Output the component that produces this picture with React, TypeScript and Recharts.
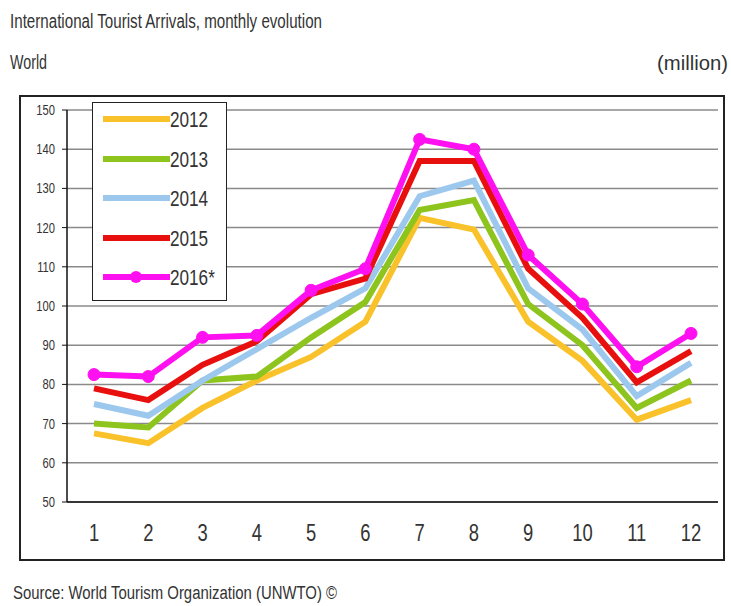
import React from 'react';
import { LineChart, Line, XAxis, YAxis, CartesianGrid, Legend } from 'recharts';

const months = ['1', '2', '3', '4', '5', '6', '7', '8', '9', '10', '11', '12'];
const y2012 = [67.5, 65, 74, 81, 87, 96, 122.5, 119.5, 96, 86, 71, 76];
const y2013 = [70, 69, 81, 82, 92, 101, 124.5, 127, 100.5, 90, 74, 81];
const y2014 = [75, 72, 81, 89, 97, 104.5, 128, 132, 104.5, 94, 77, 85.5];
const y2015 = [79, 76, 85, 91, 103, 107, 137, 137, 109.5, 97, 80.5, 88.5];
const y2016 = [82.5, 82, 92, 92.5, 104, 109.5, 142.5, 140, 113, 100.5, 84.5, 93];
const yTicks = [50, 60, 70, 80, 90, 100, 110, 120, 130, 140, 150];

const data = months.map((m, i) => ({
  month: m,
  y2012: y2012[i],
  y2013: y2013[i],
  y2014: y2014[i],
  y2015: y2015[i],
  y2016: y2016[i],
}));

// narrow look: Arial metrics squeezed horizontally
const FONT = "'Liberation Sans', Arial, sans-serif";
const SQUEEZE = 0.8;

const series = [
  { key: 'y2012', name: '2012', color: '#FAC22A' },
  { key: 'y2013', name: '2013', color: '#8DC41E' },
  { key: 'y2014', name: '2014', color: '#9DC8EE' },
  { key: 'y2015', name: '2015', color: '#E8100E' },
  { key: 'y2016', name: '2016*', color: '#FF10F0' },
];

const XTick = (props: any) => {
  const { x, y, payload } = props;
  return (
    <g transform={`translate(${x},${y})`}>
      <text transform={`scale(${SQUEEZE},1)`} textAnchor="middle" dy="0.36em" fontFamily={FONT} fontSize={23} fill="#333">
        {payload.value}
      </text>
    </g>
  );
};

const YTick = (props: any) => {
  const { x, y, payload } = props;
  return (
    <g transform={`translate(${x},${y})`}>
      <text transform={`scale(${SQUEEZE},1)`} textAnchor="end" dy="0.36em" fontFamily={FONT} fontSize={14} fill="#333">
        {payload.value}
      </text>
    </g>
  );
};

const LegendBox = (props: any) => {
  const items = props.payload || [];
  return (
    <div
      style={{
        width: 135,
        height: 199,
        border: '1.5px solid #222',
        background: '#fff',
        boxSizing: 'border-box',
        paddingTop: 2,
      }}
    >
      {items.map((it: any) => (
        <svg key={it.value} width={130} height={39.5} style={{ display: 'block' }}>
          <line x1={10} y1={14} x2={77} y2={14} stroke={it.color} strokeWidth={6} />
          {it.value === '2016*' && <circle cx={43} cy={14} r={6} fill={it.color} />}
          <text
            transform={`translate(77,14) scale(0.78,1)`}
            dy="0.36em"
            fontFamily={FONT}
            fontSize={22}
            fill="#333"
          >
            {it.value}
          </text>
        </svg>
      ))}
    </div>
  );
};

export default function App() {
  return (
    <div
      style={{
        position: 'absolute',
        left: 0,
        top: 0,
        width: 731,
        height: 606,
        background: '#fff',
        overflow: 'hidden',
      }}
    >
      <svg width={731} height={606} style={{ position: 'absolute', left: 0, top: 0 }}>
        <text x={10} y={28} fontFamily={FONT} fontSize={20} fill="#333" textLength={312} lengthAdjust="spacingAndGlyphs">
          International Tourist Arrivals, monthly evolution
        </text>
        <text x={10} y={69} fontFamily={FONT} fontSize={21} fill="#333" textLength={37} lengthAdjust="spacingAndGlyphs">
          World
        </text>
        <text x={657} y={70} fontFamily={FONT} fontSize={21} fill="#333" textLength={71} lengthAdjust="spacingAndGlyphs">
          (million)
        </text>
        <rect x={20} y={96} width={704} height={464} fill="none" stroke="#222" strokeWidth={2} />
        <text x={13} y={599} fontFamily={FONT} fontSize={18} fill="#333" textLength={324} lengthAdjust="spacingAndGlyphs">
          Source: World Tourism Organization (UNWTO) ©
        </text>
      </svg>
      <div style={{ position: 'absolute', left: 0, top: 0 }}>
        <LineChart
          width={731}
          height={606}
          data={data}
          margin={{ top: 110, right: 13, left: 27, bottom: 64 }}
        >
          <CartesianGrid vertical={false} stroke="#8a8a8a" strokeWidth={1.5} />
          <XAxis
            dataKey="month"
            padding={{ left: 27, right: 27 }}
            height={40}
            axisLine={{ stroke: '#111', strokeWidth: 1.5 }}
            tickLine={false}
            tickSize={0}
            tickMargin={31}
            tick={<XTick />}
          />
          <YAxis
            domain={[50, 150]}
            ticks={yTicks}
            width={40}
            interval={0}
            axisLine={{ stroke: '#111', strokeWidth: 1.5 }}
            tickLine={{ stroke: '#111', strokeWidth: 1 }}
            tickSize={5}
            tickMargin={7}
            tick={<YTick />}
          />
          <YAxis
            yAxisId="right"
            orientation="right"
            domain={[50, 150]}
            width={0}
            tick={false}
            tickLine={false}
            axisLine={{ stroke: '#8a8a8a', strokeWidth: 2 }}
          />
          <Legend
            layout="horizontal"
            verticalAlign="middle"
            align="center"
            content={<LegendBox />}
            wrapperStyle={{ left: 92, top: 102, width: 135, height: 199 }}
          />
          {series.map((s) => (
            <Line
              key={s.key}
              type="linear"
              dataKey={s.key}
              name={s.name}
              stroke={s.color}
              strokeWidth={6}
              dot={s.key === 'y2016' ? { r: 6, fill: s.color, stroke: s.color, strokeWidth: 1 } : false}
              activeDot={false}
              isAnimationActive={false}
            />
          ))}
        </LineChart>
      </div>
    </div>
  );
}
